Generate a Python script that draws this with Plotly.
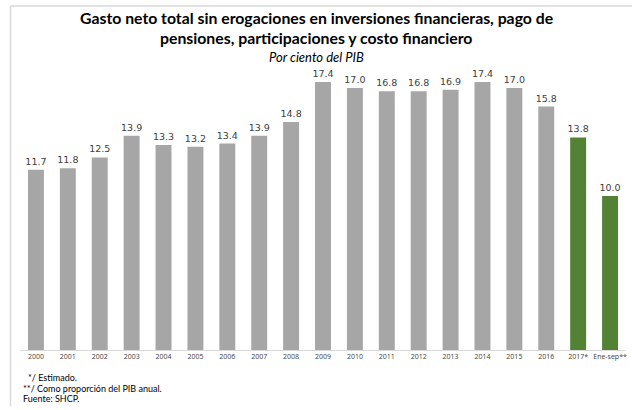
import plotly.graph_objects as go

categories = ["2000", "2001", "2002", "2003", "2004", "2005", "2006", "2007", "2008",
              "2009", "2010", "2011", "2012", "2013", "2014", "2015", "2016", "2017*", "Ene-sep**"]
values = [11.7, 11.8, 12.5, 13.9, 13.3, 13.2, 13.4, 13.9, 14.8,
          17.4, 17.0, 16.8, 16.8, 16.9, 17.4, 17.0, 15.8, 13.8, 10.0]
gray = "#A6A6A6"
green = "#548235"
colors = [gray] * 17 + [green] * 2

W, H = 632, 410
L, R, T, B = 20, 6, 65, 60
pw, ph = W - L - R, H - T - B

def px(x):
    return (x - L) / pw

def py(y):
    return (H - B - y) / ph

fig = go.Figure(go.Bar(
    x=categories, y=values, marker_color=colors, marker_line_width=0,
    text=[f"{v:.1f}" for v in values], textposition="outside",
    textfont=dict(family="DejaVu Sans", size=9.5, color="#404040"),
    constraintext="none",
    cliponaxis=False, hoverinfo="skip",
))

fig.update_layout(
    width=W, height=H, margin=dict(l=L, r=R, t=T, b=B),
    paper_bgcolor="white", plot_bgcolor="white",
    bargap=0.5, showlegend=False,
    xaxis=dict(type="category", showline=True, linecolor="#D9D9D9", linewidth=1,
               ticks="", tickfont=dict(family="Open Sans", size=7, color="#404040"),
               showgrid=False, fixedrange=True),
    yaxis=dict(range=[0, 18.5], visible=False, showgrid=False, fixedrange=True),
    font=dict(family="Lato", color="#000000"),
)

ann = [
    dict(text="<b>Gasto neto total sin erogaciones en inversiones financieras, pago de</b>",
         x=px(316), y=py(18), size=15.8, xanchor="center"),
    dict(text="<b>pensiones, participaciones y costo financiero</b>",
         x=px(316), y=py(38), size=15.8, xanchor="center"),
    dict(text="<i>Por ciento del PIB</i>", x=px(316), y=py(57), size=13, xanchor="center"),
    dict(text="*/ Estimado.", x=px(26), y=py(377), size=9, xanchor="left"),
    dict(text="**/ Como proporción del PIB anual.", x=px(21), y=py(388), size=9, xanchor="left"),
    dict(text="Fuente: SHCP.", x=px(21), y=py(398), size=9, xanchor="left"),
]
for a in ann:
    fig.add_annotation(text=a["text"], x=a["x"], y=a["y"], xref="paper", yref="paper",
                       xanchor=a["xanchor"], yanchor="middle", showarrow=False,
                       font=dict(family="Lato", size=a["size"], color="#000000"))

# frame lines
fig.add_shape(type="line", xref="paper", yref="paper", x0=px(10.5), x1=px(632), y0=py(6), y1=py(6),
              line=dict(color="#D9D9D9", width=1.5))
fig.add_shape(type="line", xref="paper", yref="paper", x0=px(10.5), x1=px(10.5), y0=py(6), y1=py(406),
              line=dict(color="#D9D9D9", width=1.5))

fig.write_html("out.html", config={"displayModeBar": False},
               post_script="document.body.style.margin='0';")
